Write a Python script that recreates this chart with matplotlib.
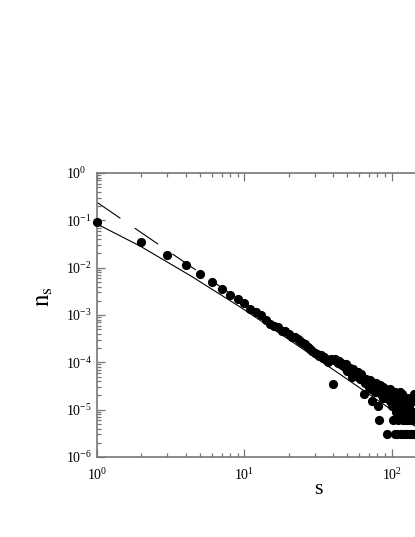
import numpy as np
import matplotlib
matplotlib.use('Agg')
import matplotlib.pyplot as plt
from matplotlib.ticker import LogLocator, NullFormatter, LogFormatterSciNotation

plt.rcParams['font.family'] = ['Liberation Serif', 'DejaVu Serif']
plt.rcParams['mathtext.fontset'] = 'stix'
plt.rcParams['lines.scale_dashes'] = False

# ---- data ----
small_s = list(range(1, 41))
small_n = [0.091, 0.035, 0.0185, 0.0115, 0.0074, 0.0050, 0.0036, 0.0027, 0.0022, 0.00176,
           0.00135, 0.00117, 0.00100, 0.00080, 0.00064, 0.00058, 0.00056, 0.00047, 0.00045, 0.00040,
           0.00035, 0.00035, 0.00031, 0.00028, 0.00026, 0.00024, 0.00021, 0.000195, 0.000175, 0.000155,
           0.000150, 0.000138, 0.000140, 0.000125, 0.000132, 0.000115, 0.000102, 0.000112, 0.000118, 0.0000355]

tail_s = list(range(41, 147))
tail_counts = [40, 37, 32, 36, 33, 29, 31, 26, 30, 22,
               23, 25, 21, 16, 24, 19, 20, 17, 21, 18,
               15, 19, 16, 14, 7, 12, 15, 13, 11, 10,
               14, 9, 12, 5, 11, 10, 8, 12, 9, 8,
               4, 2, 11, 7, 9, 8, 6, 10, 7, 9,
               6, 8, 1, 7, 6, 8, 5, 9, 6, 7,
               4, 2, 6, 5, 1, 8, 3, 5, 1, 2,
               6, 3, 7, 8, 4, 1, 5, 7, 2, 3,
               6, 1, 4, 3, 2, 5, 6, 1, 3, 2,
               5, 4, 1, 3, 2, 6, 1, 2, 5, 3,
               1, 7, 5, 1, 6, 2]
count_unit = 3.0e-6

# solid fit curve
solid_s = [1.0, 1.961, 4.293, 9.393, 20.55, 45.0, 98.4, 145.7, 316.0]
solid_n = [0.0836, 0.0286, 0.00681, 0.001469, 0.000288, 5.50e-5, 1.026e-5, 4.38e-6, 8.1e-7]

# dashed power law (end points)
dashed_s = [1.0, 1000.0]
dashed_n = [0.24, 9.8e-8]

x_ticks = [1, 10, 100]
y_ticks = [1e-6, 1e-5, 1e-4, 1e-3, 1e-2, 1e-1, 1]

# ---- figure ----
fig = plt.figure(figsize=(4.15, 5.37), dpi=100)
ax = fig.add_axes([97/415, 80/537, 442/415, 284/537])
ax.set_xscale('log')
ax.set_yscale('log')
ax.set_xlim(1, 1000)
ax.set_ylim(1e-6, 1)

ax.plot(solid_s, solid_n, color='k', lw=0.8, zorder=2)
ax.plot(dashed_s, dashed_n, color='k', lw=0.8, dashes=(20.4, 12.5), zorder=2)

s_all = np.array(small_s + tail_s, dtype=float)
n_all = np.array(small_n + list(np.array(tail_counts) * count_unit))
ax.plot(s_all, n_all, 'o', ms=5.6, color='k', mec='k', clip_on=False, zorder=3)

grey = '#777777'
for sp in ax.spines.values():
    sp.set_color(grey)
    sp.set_linewidth(1.2)

ax.set_xticks(x_ticks)
ax.set_yticks(y_ticks)
ax.xaxis.set_major_formatter(LogFormatterSciNotation())
ax.yaxis.set_major_formatter(LogFormatterSciNotation())
ax.xaxis.set_minor_locator(LogLocator(base=10, subs=range(2, 10), numticks=20))
ax.yaxis.set_minor_locator(LogLocator(base=10, subs=range(2, 10), numticks=20))
ax.xaxis.set_minor_formatter(NullFormatter())
ax.yaxis.set_minor_formatter(NullFormatter())

ax.tick_params(which='both', direction='in', top=True, right=True, color=grey, width=0.9)
ax.tick_params(which='major', length=5.5)
ax.tick_params(which='minor', length=2.6)
ax.tick_params(axis='both', which='major', labelsize=10)
ax.tick_params(axis='x', which='major', pad=7)
ax.tick_params(axis='y', which='major', pad=22)
for lab in ax.get_yticklabels():
    lab.set_ha('left')

fig.text(44/415, 1 - 296/537, r'$\mathrm{n}_\mathrm{s}$', rotation=90,
         ha='center', va='center', fontsize=18)
fig.text(318/415, 1 - 490/537, 's', ha='center', va='center', fontsize=16)

fig.savefig('out.png', dpi=100)
